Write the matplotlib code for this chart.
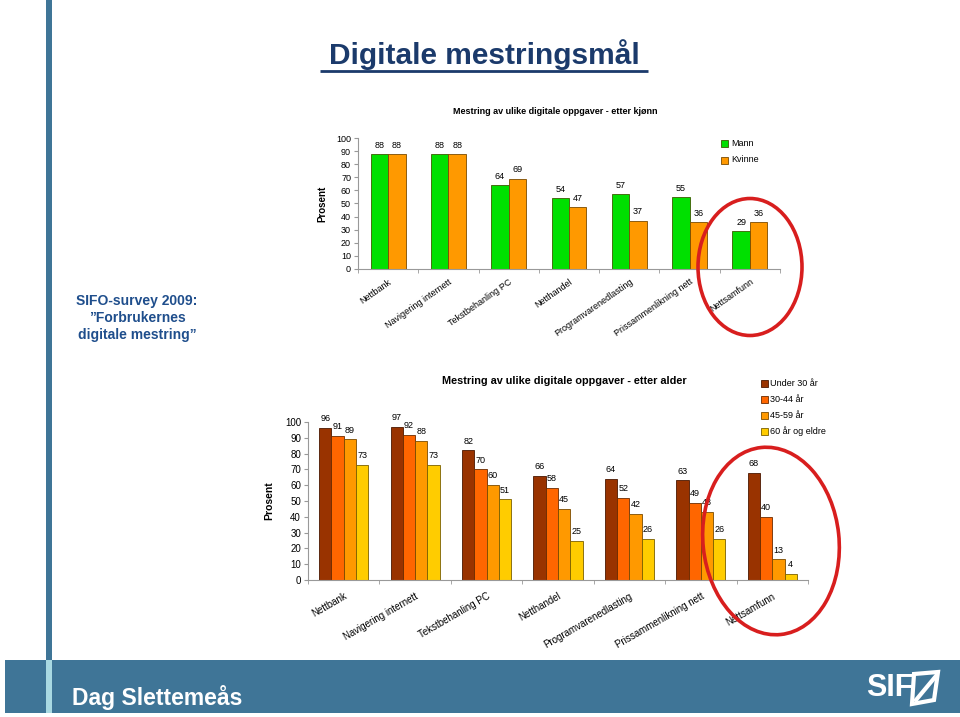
import matplotlib
matplotlib.use('Agg')
import matplotlib.pyplot as plt
from matplotlib.patches import Rectangle, Ellipse, Polygon
import numpy as np

plt.rcParams['font.family'] = ['Liberation Sans', 'DejaVu Sans']

# ---------------- data ----------------
categories = ["Nettbank", "Navigering internett", "Tekstbehanling PC", "Netthandel",
              "Programvarenedlasting", "Prissammenlikning nett", "Nettsamfunn"]
mann = [88, 88, 64, 54, 57, 55, 29]
kvinne = [88, 88, 69, 47, 37, 36, 36]
gender_labels = ["Mann", "Kvinne"]

under30 = [96, 97, 82, 66, 64, 63, 68]
age30_44 = [91, 92, 70, 58, 52, 49, 40]
age45_59 = [89, 88, 60, 45, 42, 43, 13]
age60 = [73, 73, 51, 25, 26, 26, 4]
age_labels = ["Under 30 år", "30-44 år", "45-59 år", "60 år og eldre"]
yticks = list(range(0, 101, 10))

W, H = 960, 717
fig = plt.figure(figsize=(W / 100, H / 100), dpi=100)
fig.patch.set_facecolor('white')


def px_axes(x0, y_top, x1, y_bot, **kw):
    return fig.add_axes([x0 / W, 1 - y_bot / H, (x1 - x0) / W, (y_bot - y_top) / H], **kw)


# background decorations
bg = fig.add_axes([0, 0, 1, 1], zorder=0)
bg.set_xlim(0, W)
bg.set_ylim(H, 0)
bg.axis('off')
band_col = '#3F7597'
bg.add_patch(Rectangle((5, 660), 955, 53, color=band_col, lw=0))
bg.add_patch(Rectangle((46, 0), 6, 660, color=band_col, lw=0))
bg.add_patch(Rectangle((46, 660), 6, 53, color='#A9D9E2', lw=0))

bg.text(484, 55, "Digitale mestringsmål", fontsize=21.5, fontweight='bold',
        color='#1B3A6B', ha='center', va='center')
bg.plot([320, 648], [71, 71], color='#1B3A6B', lw=2, solid_capstyle='butt')

bg.text(137, 318, "SIFO-survey 2009:\n\u201dForbrukernes\ndigitale mestring\u201d",
        fontsize=10, fontweight='bold', color='#1F4E8C', ha='center', va='center',
        linespacing=1.25)

bg.text(72, 697, "Dag Slettemeås", fontsize=16.5, fontweight='bold', color='white',
        ha='left', va='center')
bg.text(866, 688, "SIF", fontsize=22, fontweight='bold', color='white',
        ha='left', va='center', family=['Liberation Sans Narrow', 'Liberation Sans'])
bg.add_patch(Polygon([[914, 674], [938, 672], [934, 700], [912, 704]], closed=True,
                     fill=False, ec='white', lw=3))
bg.plot([916, 936], [700, 676], color='white', lw=3)

# ---------------- top chart ----------------
green, green_e = '#00E000', '#3C5A00'
orange, orange_e = '#FF9900', '#7A4A00'
ax1 = px_axes(358, 138, 780, 269)
x = np.arange(len(categories))
bw = 0.29
ax1.bar(x - bw / 2, mann, bw, color=green, edgecolor=green_e, lw=0.6)
ax1.bar(x + bw / 2, kvinne, bw, color=orange, edgecolor=orange_e, lw=0.6)
for xs, vals in ((x - bw / 2, mann), (x + bw / 2, kvinne)):
    for xi, v in zip(xs, vals):
        ax1.annotate(str(v), (xi, v), xytext=(0, 3), textcoords='offset points',
                     ha='center', va='bottom', fontsize=6.5)
ax1.set_xlim(-0.5, len(categories) - 0.5)
ax1.set_ylim(0, 100)
ax1.set_yticks(yticks)
ax1.set_xticks(x)
ax1.set_xticklabels(categories, rotation=35, ha='right', rotation_mode='anchor', fontsize=6.5)
ax1.set_xticks(np.arange(-0.5, len(categories)), minor=True)
ax1.tick_params(axis='x', which='major', length=0, pad=6)
ax1.tick_params(axis='x', which='minor', length=3, color='#999999')
ax1.tick_params(axis='y', labelsize=6.5, length=3, color='#999999', pad=2)
for s in ('top', 'right'):
    ax1.spines[s].set_visible(False)
for s in ('left', 'bottom'):
    ax1.spines[s].set_color('#999999')
    ax1.spines[s].set_linewidth(0.8)
ax1.set_ylabel("Prosent", fontsize=7, fontweight='bold', labelpad=6)
ax1.patch.set_alpha(0)

bg.text(555, 112, "Mestring av ulike digitale oppgaver - etter kjønn", fontsize=6.5,
        fontweight='bold', ha='center', va='center',
        family=['Liberation Sans Narrow', 'Liberation Sans'])
for i, (lab, fc, ec) in enumerate(zip(gender_labels, [green, orange], [green_e, orange_e])):
    yy = 143 + i * 17
    bg.add_patch(Rectangle((721, yy - 3.5), 7, 7, fc=fc, ec=ec, lw=0.6))
    bg.text(731, yy, lab, fontsize=6.5, ha='left', va='center')

# ---------------- bottom chart ----------------
age_cols = ['#993300', '#FF6600', '#FF9900', '#FFCC00']
age_edges = ['#4A1800', '#6A2A00', '#7A4A00', '#7A6000']
ax2 = px_axes(308, 422, 808, 580)
bw2 = 0.172
series = [under30, age30_44, age45_59, age60]
for k, (vals, fc, ec) in enumerate(zip(series, age_cols, age_edges)):
    xs = x + (k - 1.5) * bw2
    ax2.bar(xs, vals, bw2, color=fc, edgecolor=ec, lw=0.6)
    for xi, v in zip(xs, vals):
        ax2.annotate(str(v), (xi, v), xytext=(0, 3.5), textcoords='offset points',
                     ha='center', va='bottom', fontsize=6.5)
ax2.set_xlim(-0.5, len(categories) - 0.5)
ax2.set_ylim(0, 100)
ax2.set_yticks(yticks)
ax2.set_xticks(x)
ax2.set_xticklabels(categories, rotation=30, ha='right', rotation_mode='anchor', fontsize=7)
ax2.set_xticks(np.arange(-0.5, len(categories)), minor=True)
ax2.tick_params(axis='x', which='major', length=0, pad=8)
ax2.tick_params(axis='x', which='minor', length=3, color='#999999')
ax2.tick_params(axis='y', labelsize=7, length=3, color='#999999', pad=2)
for s in ('top', 'right'):
    ax2.spines[s].set_visible(False)
for s in ('left', 'bottom'):
    ax2.spines[s].set_color('#999999')
    ax2.spines[s].set_linewidth(0.8)
ax2.set_ylabel("Prosent", fontsize=7.5, fontweight='bold', labelpad=8)
ax2.patch.set_alpha(0)

bg.text(564, 381, "Mestring av ulike digitale oppgaver - etter alder", fontsize=7.8,
        fontweight='bold', ha='center', va='center')
for i, (lab, fc, ec) in enumerate(zip(age_labels, age_cols, age_edges)):
    yy = 383 + i * 16
    bg.add_patch(Rectangle((761, yy - 3.5), 7, 7, fc=fc, ec=ec, lw=0.6))
    bg.text(770, yy, lab, fontsize=6.5, ha='left', va='center')

# ---------------- red ellipses overlay ----------------
ov = fig.add_axes([0, 0, 1, 1], zorder=10)
ov.set_xlim(0, W)
ov.set_ylim(0, H)
ov.axis('off')
ov.patch.set_alpha(0)
red = '#D81E1E'
ov.add_patch(Ellipse((750, H - 267), 104, 137, angle=0, fill=False, ec=red, lw=2.6))
ov.add_patch(Ellipse((771, H - 541), 136, 188, angle=6, fill=False, ec=red, lw=2.6))

fig.savefig('out.png', dpi=100, facecolor='white')
